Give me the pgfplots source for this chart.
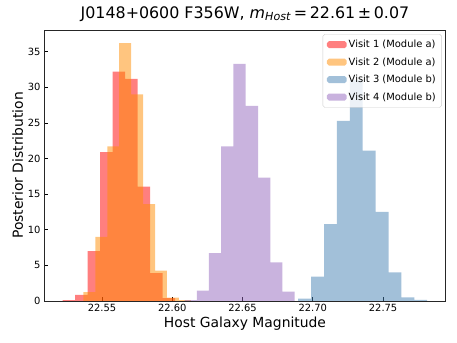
\documentclass[border=0pt]{standalone}
\usepackage{fontspec}
\setmainfont{DejaVu Sans}
\usepackage{pgfplots}
\pgfplotsset{compat=1.18}

\definecolor{visitone}{RGB}{255,0,0}
\definecolor{visittwo}{RGB}{255,140,0}
\definecolor{visitthree}{RGB}{70,130,180}
\definecolor{visitfour}{RGB}{148,103,189}

\pgfplotsset{
  histo/.style={const plot, draw=none, fill=#1, fill opacity=0.5,
    legend image code/.code={\fill[fill=#1, fill opacity=0.5] (0pt,-3.5pt) rectangle (20pt,3.5pt);}},
}

\begin{document}
\begin{tikzpicture}
\begin{axis}[
  at={(0,0)}, anchor=south west,
  scale only axis, width=405.2pt, height=273.2pt,
  xmin=22.5087, xmax=22.7947, ymin=0, ymax=38.06,
  xtick={22.55,22.6,22.65,22.7,22.75},
  xticklabels={22.55,22.60,22.65,22.70,22.75},
  ytick={0,5,10,15,20,25,30,35},
  tick align=inside, xtick pos=lower, ytick pos=left,
  major tick length=3.5pt,
  tick style={black, line width=0.8pt},
  axis line style={line width=0.8pt, black!85},
  tick label style={font=\fontsize{10}{12}\selectfont},
  /pgf/number format/assume math mode=true,
  xlabel={Host Galaxy Magnitude},
  ylabel={Posterior Distribution},
  label style={font=\fontsize{14}{16}\selectfont},
  xlabel style={yshift=2pt},
  ylabel style={yshift=-2pt},
  title={J0148+0600 F356W, \textit{m}\textsubscript{\textit{Host}}\,=\,22.61\,±\,0.07},
  title style={font=\fontsize{16}{19}\selectfont, yshift=-1pt},
  legend style={at={(0.99,0.985)}, anchor=north east, draw=black!20,
    fill=white, fill opacity=0.8, text opacity=1, rounded corners=2pt,
    font=\fontsize{10}{12}\selectfont, row sep=4.5pt, inner xsep=4pt, inner ysep=4pt},
  legend cell align=left,
]
\addplot[histo=visitone] coordinates {
(22.5219,0.1) (22.5308,0.84) (22.5397,7.0) (22.5486,20.9) (22.5575,32.2)
(22.5664,31.2) (22.5753,16.05) (22.5842,3.9) (22.5931,0.4) (22.6020,0.4)
} \closedcycle;
\addlegendentry{Visit 1 (Module a)}
\addplot[histo=visittwo] coordinates {
(22.5367,1.22) (22.5452,9.0) (22.5537,21.7) (22.5622,36.2) (22.5707,29.0)
(22.5792,13.6) (22.5877,4.26) (22.5962,0.47) (22.6047,0.12) (22.6132,0.12)
} \closedcycle;
\addlegendentry{Visit 2 (Module a)}
\addplot[histo=visitthree] coordinates {
(22.6896,0.33) (22.6988,3.4) (22.7080,10.8) (22.7171,25.3) (22.7263,31.0)
(22.7355,21.1) (22.7447,12.5) (22.7539,4.0) (22.7630,0.5) (22.7722,0.14)
(22.7814,0.14)
} \closedcycle;
\addlegendentry{Visit 3 (Module b)}
\addplot[histo=visitfour] coordinates {
(22.6087,0.1) (22.6174,1.45) (22.6261,6.7) (22.6348,21.7) (22.6435,33.3)
(22.6522,27.4) (22.6610,17.3) (22.6697,5.4) (22.6784,1.3) (22.6871,1.3)
} \closedcycle;
\addlegendentry{Visit 4 (Module b)}
\end{axis}
\pgfresetboundingbox
\path (-44.4pt,-42.2pt) rectangle (416.4pt,303.4pt);
\end{tikzpicture}
\end{document}
